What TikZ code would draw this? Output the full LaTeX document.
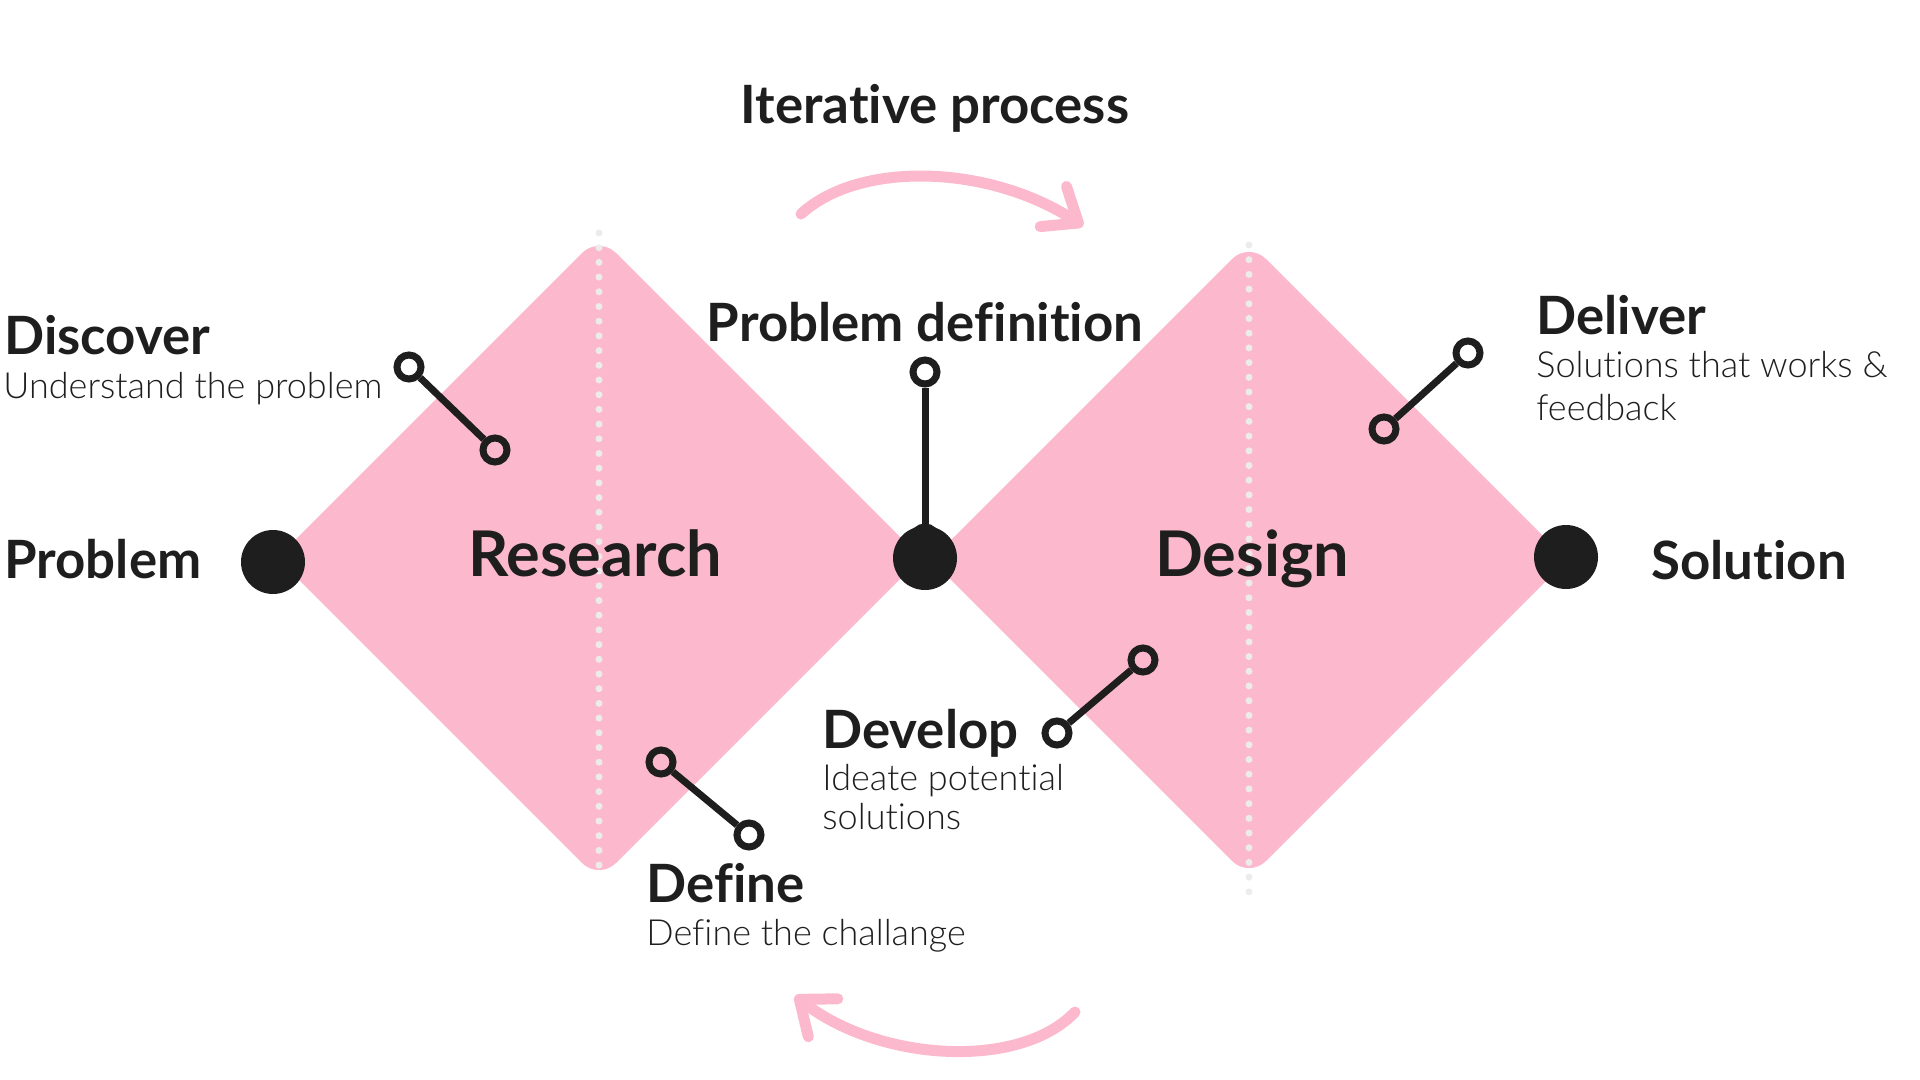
\documentclass[tikz,border=0pt]{standalone}
\usepackage{fontspec}
\setmainfont{Lato}[Ligatures=NoCommon]
\newfontfamily\lightfont{Lato Light}[Ligatures=NoCommon]
\usetikzlibrary{arrows.meta,positioning}
\definecolor{rosa}{HTML}{FCB9CD}
\definecolor{ink}{HTML}{1E1E1E}
\definecolor{dotgray}{HTML}{ECECEC}

\begin{document}
\begin{tikzpicture}[x=0.5pt,y=-0.5pt]
  \tikzstyle{phase}=[fill=rosa, rounded corners=12pt]
  \tikzstyle{axis dots}=[dotgray, line width=3.5pt, line cap=round, dash pattern=on 0pt off 7.35pt]
  \tikzstyle{milestone}=[circle, fill=ink, minimum size=32pt, inner sep=0pt]
  \tikzstyle{ring}=[circle, draw=ink, line width=3.5pt, minimum size=12pt, inner sep=0pt]
  \tikzstyle{link}=[draw=ink, line width=3.5pt]
  \tikzstyle{loop arrow}=[draw=rosa, line width=5.5pt, line cap=round,
    -{Straight Barb[round, length=15pt, width=24pt]}]
  \tikzstyle{head}=[font=\fontsize{26.4}{32}\selectfont\bfseries, text=ink, inner sep=0pt]
  \tikzstyle{big head}=[font=\fontsize{31.5}{38}\selectfont\bfseries, text=ink, inner sep=0pt]
  \tikzstyle{sub}=[font=\lightfont\fontsize{18}{22}\selectfont, text=ink, inner sep=0pt]

  \useasboundingbox (0,0) rectangle (1920,1080);

  % the two diamonds
  \fill[phase] (599,236) -- (921,558) -- (599,880) -- (277,558) -- cycle;
  \fill[phase] (1249,242) -- (1567,560) -- (1249,878) -- (931,560) -- cycle;

  \coordinate (R1) at (599,233);
  \coordinate (R2) at (599,879);
  \coordinate (D1) at (1249,245);
  \coordinate (D2) at (1249,894);
  \draw[axis dots] (R1) -- (R2);
  \draw[axis dots] (D1) -- (D2);

  % milestones
  \node[milestone] (prob) at (273,562) {};
  \node[milestone] (mid) at (925,558) {};
  \node[milestone] (sol) at (1566,557) {};

  \node[head, anchor=base west] (problem) at (4,578) {Problem};
  \node[head, anchor=base west] (solution) at (1651,579) {Solution};
  \node[big head, anchor=base] (research) at (595,576) {Research};
  \node[big head, anchor=base] (design) at (1252,576) {Design};

  % iterative loop
  \node[head, anchor=base] (iter) at (935,124) {Iterative process};
  \coordinate (T1) at (801,214);
  \coordinate (T2) at (1083,226);
  \draw[loop arrow] (T1) .. controls (860,160) and (990,165) .. (T2);
  \coordinate (B1) at (1075,1012);
  \coordinate (B2) at (795,996);
  \draw[loop arrow] (B1) .. controls (1020,1070) and (880,1062) .. (B2);

  % discover
  \node[head, anchor=base west] (discover) at (4,355) {Discover};
  \node[sub, anchor=base west] (discoverTxt) at (3,398) {Understand the problem};
  \node[ring] (dc1) at (409,367) {};
  \node[ring] (dc2) at (495,450) {};
  \draw[link] (dc1) -- (dc2);

  % problem definition
  \node[head, anchor=base] (pdef) at (925,342) {Problem definition};
  \node[ring] (pd1) at (925,372) {};
  \node[ring] (pd2) at (925,539) {};
  \draw[link] (pd1) -- (pd2);

  % deliver
  \node[head, anchor=base west] (deliver) at (1536,335) {Deliver};
  \node[sub, anchor=base west] (deliverTxt) at (1536,378) {Solutions that works \&};
  \node[sub, anchor=base west] (deliverTxt2) at (1536,420) {feedback};
  \node[ring] (dl1) at (1468,353) {};
  \node[ring] (dl2) at (1384,429) {};
  \draw[link] (dl1) -- (dl2);

  % develop
  \node[head, anchor=base west] (develop) at (822,748) {Develop};
  \node[sub, anchor=base west] (developTxt) at (822,790) {Ideate potential};
  \node[sub, anchor=base west] (developTxt2) at (822,829) {solutions};
  \node[ring] (dv1) at (1143,660) {};
  \node[ring] (dv2) at (1057,733) {};
  \draw[link] (dv1) -- (dv2);

  % define
  \node[head, anchor=base west] (define) at (646,902) {Define};
  \node[sub, anchor=base west] (defineTxt) at (646,945) {Define the challange};
  \node[ring] (df1) at (661,762) {};
  \node[ring] (df2) at (749,835) {};
  \draw[link] (df1) -- (df2);
\end{tikzpicture}
\end{document}
